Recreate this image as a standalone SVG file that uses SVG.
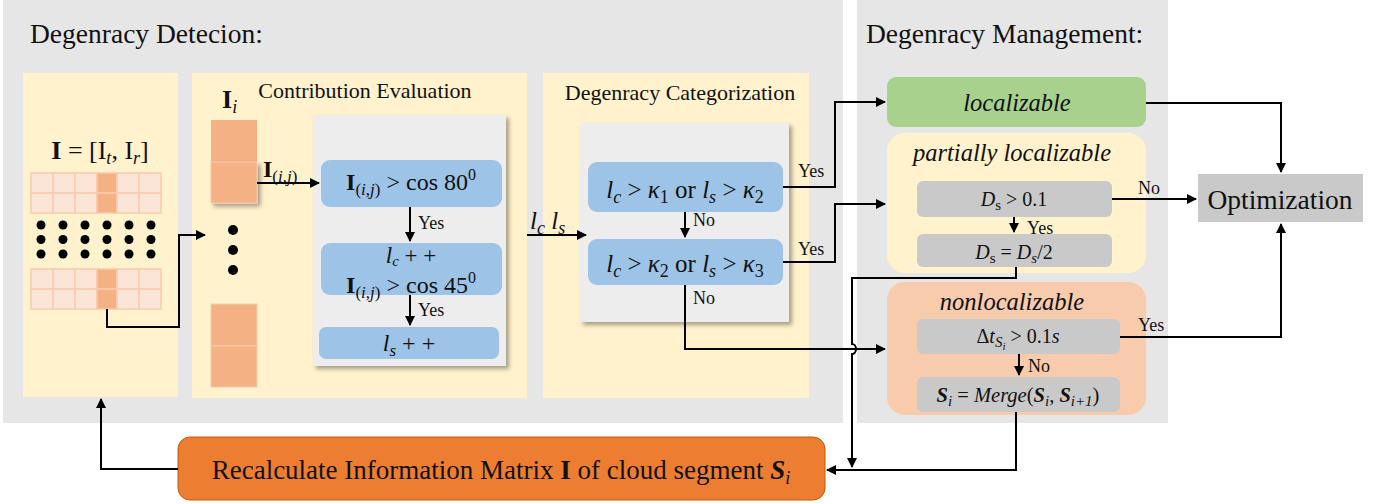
<svg xmlns="http://www.w3.org/2000/svg" width="1380" height="504" viewBox="0 0 1380 504" font-family="'Liberation Serif','Times New Roman',serif">
<defs>
<style>
text{font-family:"Liberation Serif","Times New Roman",serif;fill:#111}
.title{font-size:27.5px}
.sub{font-size:22px}
.m{font-size:24px}
.it{font-style:italic}
.b{font-weight:bold}
.lbl{font-size:18px}
.ln{fill:none;stroke:#000;stroke-width:2}
.lc{fill:#FBE5D6;stroke:#F8CBAD;stroke-width:1.5}
.dc{fill:#F4B183;stroke:#F8CBAD;stroke-width:1.5}
.blue{fill:#9DC3E6}
.gbox{fill:#C9C9C9}
.panel{fill:#FFF2CC}
</style>
<marker id="ah" viewBox="0 0 10 10" refX="9" refY="5" markerWidth="5" markerHeight="5" orient="auto-start-reverse" markerUnits="strokeWidth">
<path d="M0,0 L10,5 L0,10 z" fill="#000"/>
</marker>
<filter id="sh" x="-10%" y="-10%" width="130%" height="130%">
<feDropShadow dx="3" dy="3" stdDeviation="2" flood-color="#000" flood-opacity="0.35"/>
</filter>
</defs>
<rect width="1380" height="504" fill="#fff"/>
<rect x="3" y="0" width="840" height="423" fill="#E7E6E6"/>
<rect x="857" y="0" width="311" height="423" fill="#E7E6E6"/>
<text class="title" x="30" y="43">Degenracy Detecion:</text>
<text class="title" x="866" y="43">Degenracy Management:</text>

<g id="matrix">
<rect class="panel" x="23" y="73" width="155" height="324"/>
<text x="100" y="159" text-anchor="middle" font-size="26"><tspan class="b">I</tspan> = [I<tspan class="it" font-size="18" dy="5">t</tspan><tspan dy="-5">, I</tspan><tspan class="it" font-size="18" dy="5">r</tspan><tspan dy="-5">]</tspan></text>
<g>
<rect class="lc" x="31" y="173" width="22" height="20"/><rect class="lc" x="53" y="173" width="22" height="20"/><rect class="lc" x="75" y="173" width="22" height="20"/><rect class="dc" x="97" y="173" width="20" height="20"/><rect class="lc" x="117" y="173" width="22" height="20"/><rect class="lc" x="139" y="173" width="22" height="20"/>
<rect class="lc" x="31" y="193" width="22" height="20"/><rect class="lc" x="53" y="193" width="22" height="20"/><rect class="lc" x="75" y="193" width="22" height="20"/><rect class="dc" x="97" y="193" width="20" height="20"/><rect class="lc" x="117" y="193" width="22" height="20"/><rect class="lc" x="139" y="193" width="22" height="20"/>
</g>
<g fill="#000">
<circle cx="41" cy="225" r="4.5"/><circle cx="63" cy="225" r="4.5"/><circle cx="85" cy="225" r="4.5"/><circle cx="107" cy="225" r="4.5"/><circle cx="129" cy="225" r="4.5"/><circle cx="151" cy="225" r="4.5"/>
<circle cx="41" cy="239.5" r="4.5"/><circle cx="63" cy="239.5" r="4.5"/><circle cx="85" cy="239.5" r="4.5"/><circle cx="107" cy="239.5" r="4.5"/><circle cx="129" cy="239.5" r="4.5"/><circle cx="151" cy="239.5" r="4.5"/>
<circle cx="41" cy="254" r="4.5"/><circle cx="63" cy="254" r="4.5"/><circle cx="85" cy="254" r="4.5"/><circle cx="107" cy="254" r="4.5"/><circle cx="129" cy="254" r="4.5"/><circle cx="151" cy="254" r="4.5"/>
</g>
<g>
<rect class="lc" x="31" y="269" width="22" height="20"/><rect class="lc" x="53" y="269" width="22" height="20"/><rect class="lc" x="75" y="269" width="22" height="20"/><rect class="dc" x="97" y="269" width="20" height="20"/><rect class="lc" x="117" y="269" width="22" height="20"/><rect class="lc" x="139" y="269" width="22" height="20"/>
<rect class="lc" x="31" y="289" width="22" height="20"/><rect class="lc" x="53" y="289" width="22" height="20"/><rect class="lc" x="75" y="289" width="22" height="20"/><rect class="dc" x="97" y="289" width="20" height="20"/><rect class="lc" x="117" y="289" width="22" height="20"/><rect class="lc" x="139" y="289" width="22" height="20"/>
</g>
</g>

<g id="contribution">
<rect class="panel" x="192" y="73" width="335" height="325"/>
<text class="sub" x="365" y="98" text-anchor="middle">Contribution Evaluation</text>
<text x="222" y="108" font-size="26"><tspan class="b">I</tspan><tspan class="it" font-size="18" dy="5">i</tspan></text>
<rect x="211" y="120" width="46" height="42" fill="#F4B183"/>
<rect x="211" y="162" width="46" height="41" fill="#F4B183" stroke="#F8CBAD" stroke-width="1" filter="url(#sh)"/>
<g fill="#000"><circle cx="233" cy="230" r="5"/><circle cx="233" cy="250" r="5"/><circle cx="233" cy="270" r="5"/></g>
<rect x="211" y="304" width="46" height="42" fill="#F4B183" stroke="#F8CBAD" stroke-width="1"/>
<rect x="211" y="346" width="46" height="41" fill="#F4B183" stroke="#F8CBAD" stroke-width="1"/>
<text x="263" y="177" font-size="24"><tspan class="b">I</tspan><tspan font-size="17" dy="5">(<tspan class="it">i</tspan>,<tspan class="it">j</tspan>)</tspan></text>
<rect x="313" y="115" width="193" height="251" fill="#EDEDED" filter="url(#sh)"/>
<rect class="blue" x="321" y="160" width="181" height="47" rx="9"/>
<text class="m" x="411" y="190" text-anchor="middle"><tspan class="b">I</tspan><tspan font-size="17" dy="5">(<tspan class="it">i</tspan>,<tspan class="it">j</tspan>)</tspan><tspan dy="-5"> &gt; cos 80</tspan><tspan font-size="16" dy="-10">0</tspan></text>
<rect class="blue" x="321" y="243" width="181" height="52" rx="9"/>
<text x="411" y="263" text-anchor="middle" font-size="23"><tspan class="it">l</tspan><tspan class="it" font-size="15" dy="3">c</tspan><tspan dy="-3"> +  +</tspan></text>
<text class="m" x="411" y="293" text-anchor="middle"><tspan class="b">I</tspan><tspan font-size="17" dy="5">(<tspan class="it">i</tspan>,<tspan class="it">j</tspan>)</tspan><tspan dy="-5"> &gt; cos 45</tspan><tspan font-size="16" dy="-10">0</tspan></text>
<rect class="blue" x="319" y="327" width="180" height="32" rx="7"/>
<text class="m" x="409" y="351" text-anchor="middle"><tspan class="it">l</tspan><tspan class="it" font-size="17" dy="5">s</tspan><tspan dy="-5"> +  +</tspan></text>
<text class="lbl" x="418" y="229">Yes</text>
<text class="lbl" x="418" y="316">Yes</text>
</g>

<g id="categorization">
<rect class="panel" x="543" y="73" width="266" height="325"/>
<text class="sub" x="680" y="100" text-anchor="middle">Degenracy Categorization</text>
<rect x="580" y="123" width="209" height="199" fill="#EDEDED" filter="url(#sh)"/>
<rect class="blue" x="588" y="162" width="195" height="50" rx="9"/>
<text x="685" y="198" text-anchor="middle" font-size="25"><tspan class="it">l</tspan><tspan class="it" font-size="18" dy="5">c</tspan><tspan dy="-5"> &gt; </tspan><tspan class="it">κ</tspan><tspan font-size="18" dy="5">1</tspan><tspan dy="-5"> or </tspan><tspan class="it">l</tspan><tspan class="it" font-size="18" dy="5">s</tspan><tspan dy="-5"> &gt; </tspan><tspan class="it">κ</tspan><tspan font-size="18" dy="5">2</tspan></text>
<rect class="blue" x="588" y="239" width="195" height="46" rx="9"/>
<text x="685" y="272" text-anchor="middle" font-size="25"><tspan class="it">l</tspan><tspan class="it" font-size="18" dy="5">c</tspan><tspan dy="-5"> &gt; </tspan><tspan class="it">κ</tspan><tspan font-size="18" dy="5">2</tspan><tspan dy="-5"> or </tspan><tspan class="it">l</tspan><tspan class="it" font-size="18" dy="5">s</tspan><tspan dy="-5"> &gt; </tspan><tspan class="it">κ</tspan><tspan font-size="18" dy="5">3</tspan></text>
<text class="lbl" x="693" y="226">No</text>
<text class="lbl" x="693" y="304">No</text>
<text class="lbl" x="798" y="177">Yes</text>
<text class="lbl" x="798" y="255">Yes</text>
<text x="530" y="229" font-size="25"><tspan class="it">l</tspan><tspan class="it" font-size="18" dy="5">c</tspan><tspan dy="-5" class="it"> l</tspan><tspan class="it" font-size="18" dy="5">s</tspan></text>
</g>

<g id="localizable">
<rect x="887" y="77" width="259" height="50" rx="9" fill="#A9D18E"/>
<text class="it" x="1017" y="111" text-anchor="middle" font-size="24.5">localizable</text>
</g>

<g id="partially">
<rect x="887" y="133" width="259" height="140" rx="18" fill="#FFF2CC"/>
<text class="it" x="1012" y="161" text-anchor="middle" font-size="24.5">partially localizable</text>
<rect class="gbox" x="917" y="181" width="195" height="36" rx="6"/>
<text x="1014" y="206" text-anchor="middle" font-size="20"><tspan class="it">D</tspan><tspan font-size="15" dy="4">s</tspan><tspan dy="-4"> &gt; 0.1</tspan></text>
<rect class="gbox" x="917" y="234" width="195" height="33" rx="6"/>
<text x="1014" y="259" text-anchor="middle" font-size="20"><tspan class="it">D</tspan><tspan font-size="15" dy="4">s</tspan><tspan dy="-4"> = </tspan><tspan class="it">D</tspan><tspan class="it" font-size="15" dy="4">s</tspan><tspan dy="-4">/2</tspan></text>
<text class="lbl" x="1027" y="234">Yes</text>
</g>

<g id="nonlocalizable">
<rect x="887" y="282" width="259" height="133" rx="18" fill="#F8CBAD"/>
<text class="it" x="1012" y="310" text-anchor="middle" font-size="24.5">nonlocalizable</text>
<rect class="gbox" x="917" y="319" width="203" height="35" rx="6"/>
<text x="1018" y="343" text-anchor="middle" font-size="20">Δ<tspan class="it">t</tspan><tspan class="it" font-size="15" dy="4">S</tspan><tspan class="it" font-size="11" dy="3">i</tspan><tspan dy="-7"> &gt; 0.1</tspan><tspan class="it">s</tspan></text>
<rect class="gbox" x="917" y="377" width="203" height="35" rx="6"/>
<text x="1018" y="402" text-anchor="middle" font-size="20.5"><tspan class="b it">S</tspan><tspan class="it" font-size="15" dy="4">i</tspan><tspan dy="-4"> = </tspan><tspan class="it">Merge</tspan>(<tspan class="b it">S</tspan><tspan class="it" font-size="15" dy="4">i</tspan><tspan dy="-4">, </tspan><tspan class="b it">S</tspan><tspan class="it" font-size="15" dy="4">i+1</tspan><tspan dy="-4">)</tspan></text>
<text class="lbl" x="1028" y="372">No</text>
</g>

<g id="optimization">
<rect class="gbox" x="1198" y="174" width="165" height="48"/>
<text x="1280" y="209" text-anchor="middle" font-size="27.5">Optimization</text>
<text class="lbl" x="1138" y="194">No</text>
<text class="lbl" x="1138" y="331">Yes</text>
</g>

<g id="recalculate">
<rect x="178" y="437" width="647" height="63" rx="12" fill="#ED7D31" stroke="#C55A11" stroke-width="1"/>
<text x="501" y="479" text-anchor="middle" font-size="27">Recalculate Information Matrix <tspan class="b">I</tspan> of cloud segment <tspan class="b it">S</tspan><tspan class="it" font-size="18" dy="5">i</tspan></text>
</g>

<g id="connectors">
<path class="ln" d="M107,309 V327 H179 V235 H205" marker-end="url(#ah)"/>
<path class="ln" d="M257,183 H319" marker-end="url(#ah)"/>
<path class="ln" d="M410,207 V241" marker-end="url(#ah)"/>
<path class="ln" d="M410,295 V325" marker-end="url(#ah)"/>
<path class="ln" d="M527,235 H586" marker-end="url(#ah)"/>
<path class="ln" d="M685,212 V237" marker-end="url(#ah)"/>
<path class="ln" d="M783,187 H835 V102 H885" marker-end="url(#ah)"/>
<path class="ln" d="M783,262 H835 V204 H885" marker-end="url(#ah)"/>
<path class="ln" d="M685,285 V349 H885" marker-end="url(#ah)"/>
<path class="ln" d="M1016,267 V278 H852 V344 a4,5 0 0 1 0,10 V467" marker-end="url(#ah)"/>
<path class="ln" d="M1016,412 V470 H827" marker-end="url(#ah)"/>
<path class="ln" d="M178,469 H101 V399" marker-end="url(#ah)"/>
<path class="ln" d="M1014,217 V232" marker-end="url(#ah)"/>
<path class="ln" d="M1019,354 V375" marker-end="url(#ah)"/>
<path class="ln" d="M1146,103 H1281 V172" marker-end="url(#ah)"/>
<path class="ln" d="M1112,199 H1196" marker-end="url(#ah)"/>
<path class="ln" d="M1120,337 H1281 V224" marker-end="url(#ah)"/>
</g>
</svg>
